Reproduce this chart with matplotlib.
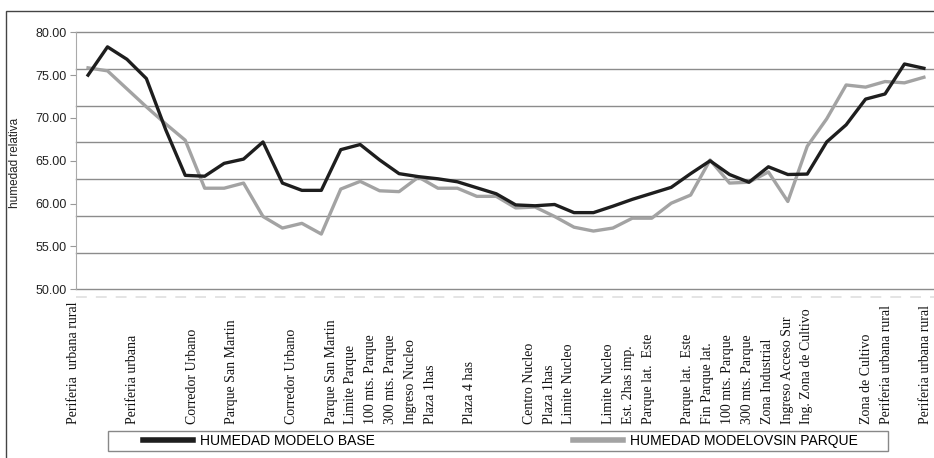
import numpy as np
import matplotlib
matplotlib.use("Agg")
import matplotlib.pyplot as plt
from matplotlib.lines import Line2D
from matplotlib.patches import Rectangle
import matplotlib.transforms as mtransforms

# humedad relativa por punto del recorrido (44 puntos)
humedad_base = [75.0, 78.3, 76.85, 74.6, 68.6, 63.3, 63.2, 64.7, 65.2, 67.2,
                62.4, 61.55, 61.55, 66.3, 66.9, 65.1, 63.5, 63.15, 62.9, 62.55,
                61.85, 61.15, 59.85, 59.75, 59.9, 58.95, 58.95, 59.7, 60.5, 61.2,
                61.9, 63.5, 65.0, 63.4, 62.5, 64.3, 63.4, 63.45, 67.2, 69.2,
                72.2, 72.8, 76.3, 75.8]
humedad_sin_parque = [75.85, 75.5, 73.4, 71.3, 69.3, 67.4, 61.8, 61.8, 62.4, 58.5,
                      57.15, 57.7, 56.45, 61.7, 62.6, 61.5, 61.4, 63.1, 61.8, 61.8,
                      60.85, 60.85, 59.5, 59.6, 58.5, 57.25, 56.8, 57.15, 58.3, 58.3,
                      60.05, 61.0, 65.1, 62.4, 62.5, 63.7, 60.25, 66.7, 69.9, 73.85,
                      73.6, 74.25, 74.1, 74.75]

lugares = [""] * 44
lugares[0] = "Periferia  urbana rural"
lugares[3] = "Periferia urbana"
lugares[6] = "Corredor Urbano"
lugares[8] = "Parque San Martin"
lugares[11] = "Corredor Urbano"
lugares[13] = "Parque San Martin"
lugares[14] = "Limite Parque"
lugares[15] = "100 mts. Parque"
lugares[16] = "300 mts. Parque"
lugares[17] = "Ingreso Nucleo"
lugares[18] = "Plaza 1has"
lugares[20] = "Plaza 4 has"
lugares[23] = "Centro Nucleo"
lugares[24] = "Plaza 1has"
lugares[25] = "Limite Nucleo"
lugares[27] = "Limite Nucleo"
lugares[28] = "Est. 2has imp."
lugares[29] = "Parque lat.  Este"
lugares[31] = "Parque lat.  Este"
lugares[32] = "Fin Parque lat."
lugares[33] = "100 mts. Parque"
lugares[34] = "300 mts. Parque"
lugares[35] = "Zona Industrial"
lugares[36] = "Ingreso Acceso Sur"
lugares[37] = "Ing. Zona de Cultivo"
lugares[40] = "Zona de Cultivo"
lugares[41] = "Periferia urbana rural"
lugares[43] = "Periferia urbana rural"

serie_labels = ["HUMEDAD MODELO BASE", "HUMEDAD MODELOVSIN PARQUE"]

plt.rcParams['font.family'] = ['Liberation Sans', 'DejaVu Sans']

W, H = 934, 458
fig = plt.figure(figsize=(W / 100, H / 100), dpi=100)


def fx(px):
    return px / W


def fy(py):
    return 1 - py / H


ax = fig.add_axes([fx(76), fy(289.3), fx(934) - fx(76), fy(32.3) - fy(289.3)])

x = np.arange(len(humedad_base))
c_base = '#1e1e1e'
c_sin = '#a3a3a3'

# gridlines of the scanned figure do not sit on the ticks
for v in np.linspace(50, 80, 8):
    ax.axhline(v, color='#8c8c8c', lw=1.0, zorder=0, clip_on=False)

ax.plot(x, humedad_sin_parque, color=c_sin, lw=2.4, zorder=2)
ax.plot(x, humedad_base, color=c_base, lw=2.4, zorder=3)

ax.set_xlim(-0.62, 43.52)
ax.set_ylim(50, 80)
ax.set_yticks(np.arange(50, 81, 5))
ax.yaxis.set_major_formatter('{x:.2f}')
ax.tick_params(axis='y', length=4, color='#999999', labelsize=9, pad=3, labelcolor='#222222')
ax.set_xticks([])
for s in ['top', 'right', 'bottom']:
    ax.spines[s].set_visible(False)
ax.spines['left'].set_color('#aaaaaa')

# faint dashed row under the axis
ax.plot([0, 1], [-0.03, -0.03], transform=ax.transAxes, clip_on=False,
        color='#e2e2e2', lw=1.3, ls=(0, (6, 5)))

# category labels, bottom aligned
trans = mtransforms.blended_transform_factory(ax.transData, fig.transFigure)
for k, txt in enumerate(lugares):
    if txt:
        ax.text(k * 1.02 - 0.76, fy(424), txt, transform=trans, rotation=90,
                ha='center', va='bottom', fontsize=10, color='#111111',
                family='Liberation Serif', clip_on=False)

fig.text(fx(15), fy(163), 'humedad relativa', rotation=90, ha='center', va='center',
         fontsize=8.5, color='#222222')

# legend box + legend
fig.add_artist(Rectangle((fx(108), fy(451)), fx(888) - fx(108), fy(431) - fy(451),
                         transform=fig.transFigure, fill=False, ec='#888888', lw=1))
handles = [Line2D([], [], color=c_base, lw=4), Line2D([], [], color=c_sin, lw=4)]
fig.legend(handles, serie_labels, loc='center left', bbox_to_anchor=(fx(143), fy(441)),
           frameon=False, ncol=2, fontsize=10, handlelength=3.6, handletextpad=0.5,
           columnspacing=14.3, borderpad=0, borderaxespad=0)

# outer frame
fig.add_artist(Rectangle((fx(6), -0.05), 1.2, fy(11) + 0.05, transform=fig.transFigure,
                         fill=False, ec='#444444', lw=1, clip_on=False))

fig.savefig('out.png', dpi=100)
